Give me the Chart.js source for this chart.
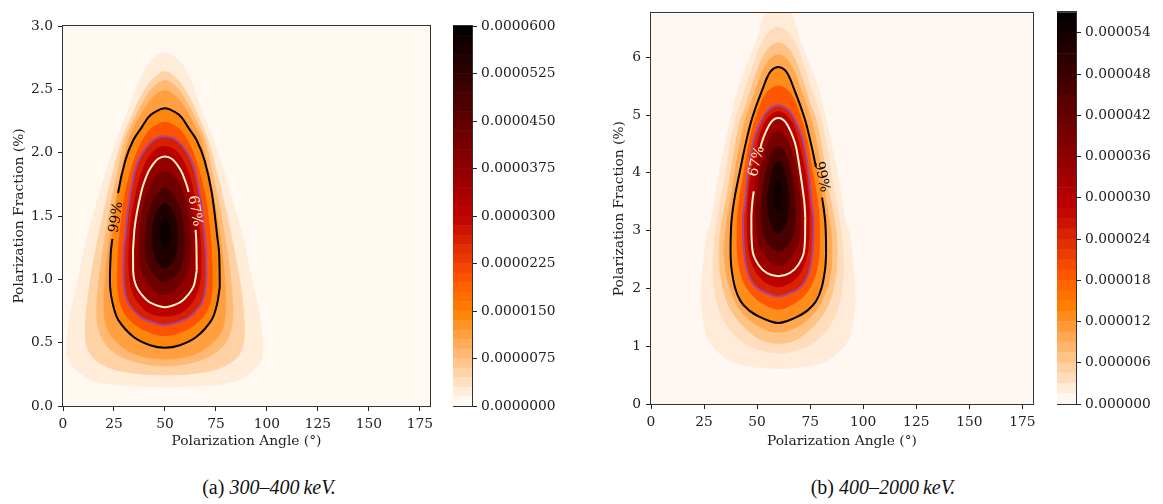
<!DOCTYPE html>
<html lang="en">
<head>
<meta charset="UTF-8" />
<title>Polarization angle / fraction posteriors</title>
<script src="https://cdn.jsdelivr.net/npm/chart.js"></script>
<style>
  body {
    margin: 0;
    width: 1163px;
    height: 504px;
    position: relative;
    overflow: hidden;
    background: #fff;
  }
  canvas { position: absolute; top: 0; }
  #mainA { left: 0; }
  #barA { left: 453px; }
  #mainB { left: 590px; }
  #barB { left: 1057px; }
  .cap {
    position: absolute;
    top: 476px;
    font-family: 'Liberation Serif', serif;
    font-size: 20px;
    color: #111;
    white-space: nowrap;
    transform: translateX(-50%);
  }
</style>
</head>
<body>

<canvas id="mainA" width="445" height="450"></canvas>
<canvas id="barA" width="120" height="420"></canvas>
<canvas id="mainB" width="455" height="450"></canvas>
<canvas id="barB" width="106" height="420"></canvas>
<div class="cap" style="left:269px">(a) <i>300–400&#8201;keV.</i></div>
<div class="cap" style="left:883px">(b) <i>400–2000&#8201;keV.</i></div>

<script>
  // axis ticks
  const angleTicks = [0, 25, 50, 75, 100, 125, 150, 175];
  const fracTicksA = [0, 0.5, 1.0, 1.5, 2.0, 2.5, 3.0];
  const fracTicksB = [0, 1, 2, 3, 4, 5, 6];
  const cbTicksA = [0, 0.0000075, 0.000015, 0.0000225, 0.00003, 0.0000375, 0.000045, 0.0000525, 0.00006];
  const cbTicksB = [0, 0.000006, 0.000012, 0.000018, 0.000024, 0.00003, 0.000036, 0.000042, 0.000048, 0.000054];
  const cbMaxA = 0.00006;
  const cbMaxB = 0.000057;
  const cbStep = 0.0000015;
  const fracMaxA = 3.0;
  const fracMaxB = 6.76;
  const peakAngleA = 50;
  const peakAngleB = 60;

  // contour outlines: [fraction, half-width in degrees], top to bottom
  // panel (a) 300-400 keV, outermost first
  const a1 = [[2.79,0],[2.73,6.5],[2.63,10.8],[2.37,17.2],[2.10,23.6],[1.84,29],[1.57,34],[1.31,38.5],[1.0,42.5],[0.75,46],[0.47,48.2],[0.36,47],[0.28,43],[0.21,37],[0.175,28],[0.158,15],[0.152,0]];
  const a2 = [[2.64,0],[2.58,6],[2.45,11.5],[2.3,16],[2.10,21],[1.84,25.5],[1.57,29.5],[1.31,33],[1.0,36.5],[0.75,38.5],[0.55,39],[0.42,37],[0.33,31],[0.27,20],[0.245,0]];
  const a3 = [[2.57,0],[2.52,5.5],[2.42,10],[2.3,14],[2.10,19.6],[1.84,23.3],[1.57,26.8],[1.31,29.6],[1.0,32.3],[0.75,33.5],[0.58,32],[0.45,27],[0.36,17],[0.315,0]];
  const a4 = [[2.49,0],[2.45,5],[2.36,9.5],[2.25,13.5],[2.10,17.8],[1.84,21.5],[1.57,24.8],[1.31,27.3],[1.0,29.3],[0.75,29.8],[0.6,28],[0.48,22],[0.40,13],[0.37,0]];
  const a99 = [[2.35,0],[2.32,5],[2.28,8.1],[2.2,11.4],[2.1,15.5],[1.94,19.4],[1.68,23],[1.32,25.8],[1.2,26.6],[0.94,26.9],[0.80,25.5],[0.68,22.9],[0.547,15.5],[0.48,7.3],[0.46,0]];
  const a5 = [[2.24,0],[2.21,5],[2.16,8.5],[2.05,12.5],[1.9,16],[1.65,19.8],[1.35,22.2],[1.1,23.2],[0.9,23],[0.75,20.5],[0.64,14.5],[0.575,6.5],[0.555,0]];
  const a95 = [[2.13,0],[2.115,4],[2.09,6.3],[2.04,9.2],[1.97,12.0],[1.84,15],[1.57,17.9],[1.31,19.6],[1.2,20.2],[0.94,20],[0.81,17.9],[0.705,12.2],[0.66,6],[0.64,0]];
  const a6 = [[2.05,0],[2.03,4.0],[1.98,7.3],[1.9,10],[1.75,13.2],[1.5,16.2],[1.25,17.6],[1.0,17.3],[0.86,14.8],[0.76,10],[0.72,5],[0.71,0]];
  const a67 = [[1.97,0],[1.95,3.5],[1.90,6.2],[1.84,8.4],[1.69,11.6],[1.39,15],[1.07,15.6],[0.94,13.9],[0.837,9],[0.80,5],[0.78,0]];
  const a7 = [[1.85,0],[1.8,5],[1.7,8.5],[1.5,11.5],[1.3,12.5],[1.1,11.8],[0.98,8.5],[0.9,4],[0.88,0]];
  const a8 = [[1.72,0],[1.67,4],[1.58,6.8],[1.45,8.8],[1.3,9.5],[1.15,8.8],[1.05,6],[1.0,3],[0.98,0]];
  const a9 = [[1.6,0],[1.56,3],[1.47,5.3],[1.35,6.3],[1.22,5.6],[1.13,3.5],[1.09,0]];
  const a10 = [[1.48,0],[1.44,1.8],[1.37,2.5],[1.3,2.2],[1.26,1.2],[1.245,0]];
  const shapesA = [a1, a2, a3, a4, a99, a5, a95, a6, a67, a7, a8, a9, a10];
  const levelsA = [0.00000225, 0.0000045, 0.0000075, 0.0000105, 0.0000141, 0.0000204, 0.0000258, 0.00003, 0.000036, 0.000042, 0.000048, 0.000054, 0.0000582];

  // panel (b) 400-2000 keV
  const b1 = [[7.0,0],[6.74,6.3],[6.3,10],[6.03,13],[5.46,18.8],[4.89,22.7],[4.32,26],[3.75,29],[3.19,31.5],[2.92,33.7],[2.3,35.5],[1.78,36.3],[1.21,34],[0.98,30.5],[0.8,25],[0.7,19],[0.64,11],[0.615,0]];
  const b2 = [[6.52,0],[6.45,4],[6.2,8.5],[5.9,11.5],[5.46,15.5],[4.89,20.4],[4.32,23.5],[3.75,26],[2.92,29.8],[2.3,30.8],[1.78,29],[1.4,25],[1.1,18],[0.95,10],[0.88,0]];
  const b3 = [[6.25,0],[6.18,4],[5.95,8],[5.6,11.5],[5.2,15],[4.89,18],[4.32,21],[3.75,23.5],[2.92,27.4],[2.3,27.5],[1.78,24.3],[1.45,19],[1.2,12],[1.08,6],[1.05,0]];
  const b4 = [[6.04,0],[5.97,4],[5.75,7.5],[5.4,11],[4.89,15.7],[4.32,19],[3.75,21.5],[2.92,25],[2.3,24.8],[1.78,20.4],[1.5,15],[1.32,8],[1.24,0]];
  const b99 = [[5.83,0],[5.77,3.3],[5.64,5.4],[5.46,7.3],[5.18,10.2],[4.89,12.8],[4.6,14.8],[4.32,16.5],[4.10,17.7],[3.57,20.6],[3.2,22],[2.92,22.4],[2.6,22.5],[2.35,22.1],[2.01,20.4],[1.78,17.8],[1.62,13.8],[1.51,9],[1.44,4.5],[1.40,0]];
  const b5 = [[5.5,0],[5.44,4],[5.3,7],[5.0,10.2],[4.6,13.3],[4.04,16],[3.47,18.6],[3.0,19.4],[2.5,19],[2.1,16.2],[1.85,11.5],[1.7,5.5],[1.64,0]];
  const b95 = [[5.17,0],[5.12,3.6],[5.0,6.6],[4.61,11.2],[4.04,14.1],[3.47,15.7],[3.21,16.6],[2.64,16.1],[2.24,14.1],[2.01,10.2],[1.92,5.5],[1.86,0]];
  const b6 = [[5.06,0],[5.0,3.6],[4.8,7.2],[4.3,11],[3.8,13.5],[3.3,14.6],[2.7,14.1],[2.35,11.5],[2.15,7.5],[2.06,3.5],[2.03,0]];
  const b67 = [[4.95,0],[4.88,3.3],[4.61,7],[4.42,8.5],[4.04,10.2],[3.68,11.6],[3.47,12.3],[3.21,12.7],[2.64,12.1],[2.41,9.4],[2.27,5.5],[2.21,0]];
  const b7 = [[4.72,0],[4.62,3.5],[4.4,6],[4.0,8.5],[3.5,10.3],[3.1,10.5],[2.75,9],[2.55,6],[2.43,3],[2.4,0]];
  const b8 = [[4.45,0],[4.36,3],[4.15,5],[3.8,7],[3.4,8],[3.0,7.5],[2.78,5],[2.68,2.5],[2.65,0]];
  const b9 = [[4.2,0],[4.1,2.3],[3.85,4],[3.55,5],[3.25,4.5],[3.05,2.8],[2.95,0]];
  const b10 = [[3.86,0],[3.78,1.2],[3.62,1.8],[3.45,1.4],[3.38,0.8],[3.36,0]];
  const shapesB = [b1, b2, b3, b4, b99, b5, b95, b6, b67, b7, b8, b9, b10];
  const levelsB = [0.00000214, 0.0000043, 0.0000071, 0.00001, 0.0000134, 0.0000194, 0.0000245, 0.0000285, 0.0000342, 0.0000399, 0.0000456, 0.0000513, 0.0000553];

  // credible-region lines, with the gap left for their inline label
  const linesA = [
    { shape: a99, color: '#000000', gap: { side: -1, lo: 1.32, hi: 1.68 } },
    { shape: a95, color: '#a8449b', gap: null },
    { shape: a67, color: '#fff5c6', gap: { side: 1, lo: 1.39, hi: 1.69 } }
  ];
  const linesB = [
    { shape: b99, color: '#000000', gap: { side: 1, lo: 3.57, hi: 4.10 } },
    { shape: b95, color: '#a8449b', gap: null },
    { shape: b67, color: '#fff5c6', gap: { side: -1, lo: 3.68, hi: 4.42 } }
  ];
  const labelsA = [
    { text: '99%', angle: 26.2, frac: 1.49, rot: -81, color: '#000000' },
    { text: '67%', angle: 64.6, frac: 1.54, rot: 80, color: '#fff5c6' }
  ];
  const labelsB = [
    { text: '67%', angle: 49.8, frac: 4.2, rot: -76, color: '#fff5c6' },
    { text: '99%', angle: 80.4, frac: 3.93, rot: 78, color: '#000000' }
  ];

  const ink = '#222222';
  const tickFont = { family: 'DejaVu Serif', size: 13.8 };

  // gist_heat reversed
  function heat(v) {
    const t = 1 - v;
    const r = Math.min(1, 1.5 * t);
    const g = Math.min(1, Math.max(0, 2 * t - 1));
    const b = Math.min(1, Math.max(0, 4 * t - 3));
    return `rgb(${Math.round(r * 255)},${Math.round(g * 255)},${Math.round(b * 255)})`;
  }
  function bandColor(level, vmax) {
    const k = Math.floor(level / cbStep + 1e-9);
    return heat(Math.min(1, (k + 0.5) * cbStep / vmax));
  }

  // closed outline: right side down, left side back up, starting at the widest point
  function outline(center, profile) {
    const right = profile.map(([y, w]) => ({ x: center + w, y }));
    const left = profile.slice(1, -1).reverse().map(([y, w]) => ({ x: center - w, y }));
    const pts = right.concat(left);
    let k = 0;
    profile.forEach(([, w], i) => { if (w > profile[k][1]) k = i; });
    const loop = pts.slice(k).concat(pts.slice(0, k));
    loop.push({ ...loop[0] });
    return loop;
  }

  function datasetsFor(center, shapes, levels, lines, vmax) {
    const sets = shapes.map((p, i) => {
      const c = bandColor(levels[i], vmax);
      return {
        data: outline(center, p), showLine: true, fill: 'shape',
        backgroundColor: c, borderColor: c, borderWidth: 0.8,
        pointRadius: 0, tension: 0.35, order: 100 - i
      };
    });
    lines.forEach((l, i) => {
      const inGap = (ctx) => {
        if (!l.gap) return false;
        const a = ctx.p0.parsed, b = ctx.p1.parsed;
        const sameSide = (a.x - center) * l.gap.side > 0 && (b.x - center) * l.gap.side > 0;
        return sameSide && Math.min(a.y, b.y) >= l.gap.lo - 1e-6 && Math.max(a.y, b.y) <= l.gap.hi + 1e-6;
      };
      sets.push({
        data: outline(center, l.shape), showLine: true, fill: false,
        borderColor: l.color, borderWidth: 2, pointRadius: 0, tension: 0.35, order: 3 - i,
        segment: { borderColor: ctx => inGap(ctx) ? 'rgba(0,0,0,0)' : l.color }
      });
    });
    return sets;
  }

  const framePlugin = {
    id: 'frame',
    beforeDatasetsDraw(chart, args, opts) {
      if (!opts.bg) return;
      const a = chart.chartArea;
      chart.ctx.save();
      chart.ctx.fillStyle = opts.bg;
      chart.ctx.fillRect(a.left, a.top, a.right - a.left, a.bottom - a.top);
      chart.ctx.restore();
    },
    afterDraw(chart) {
      const a = chart.chartArea, ctx = chart.ctx;
      ctx.save();
      ctx.strokeStyle = '#333333';
      ctx.lineWidth = 1;
      ctx.strokeRect(Math.round(a.left) - 0.5, Math.round(a.top) - 0.5,
        Math.round(a.right - a.left) + 1, Math.round(a.bottom - a.top) + 1);
      ctx.restore();
    }
  };

  function labelPlugin(items) {
    return {
      id: 'contourLabels',
      afterDatasetsDraw(chart) {
        const { ctx, scales: { x, y } } = chart;
        ctx.save();
        ctx.font = '14px "DejaVu Serif"';
        ctx.textAlign = 'center';
        ctx.textBaseline = 'middle';
        items.forEach(l => {
          ctx.save();
          ctx.translate(x.getPixelForValue(l.angle), y.getPixelForValue(l.frac));
          ctx.rotate(l.rot * Math.PI / 180);
          ctx.fillStyle = l.color;
          ctx.fillText(l.text, 0, 0);
          ctx.restore();
        });
        ctx.restore();
      }
    };
  }

  function mainChart(id, cfg) {
    return new Chart(document.getElementById(id), {
      type: 'scatter',
      data: { datasets: datasetsFor(cfg.center, cfg.shapes, cfg.levels, cfg.lines, cfg.vmax) },
      options: {
        responsive: false, animation: false, devicePixelRatio: 1, events: [],
        layout: { padding: cfg.padding },
        plugins: {
          legend: { display: false }, tooltip: { enabled: false },
          frame: { bg: heat(0.5 * cbStep / cfg.vmax) }
        },
        scales: {
          x: {
            type: 'linear', min: 0, max: 180,
            afterBuildTicks: s => { s.ticks = angleTicks.map(v => ({ value: v })); },
            afterFit: s => { s.height = cfg.xHeight; },
            grid: { drawOnChartArea: false, tickLength: 5, color: ink },
            border: { display: false },
            ticks: { font: tickFont, color: ink, padding: 5, maxRotation: 0, autoSkip: false },
            title: { display: true, text: 'Polarization Angle (°)', font: tickFont, color: ink, padding: { top: 0, bottom: 0 } }
          },
          y: {
            type: 'linear', min: 0, max: cfg.fracMax,
            afterBuildTicks: s => { s.ticks = cfg.fracTicks.map(v => ({ value: v })); },
            afterFit: s => { s.width = cfg.yWidth; },
            grid: { drawOnChartArea: false, tickLength: 5, color: ink },
            border: { display: false },
            ticks: { font: tickFont, color: ink, padding: 5, callback: cfg.fmt },
            title: { display: true, text: 'Polarization Fraction (%)', font: tickFont, color: ink, padding: { top: cfg.titlePad, bottom: 0 } }
          }
        }
      },
      plugins: [framePlugin, labelPlugin(cfg.labels)]
    });
  }

  function colorbar(id, cfg) {
    const n = Math.round(cfg.vmax / cbStep);
    const bands = [];
    for (let i = 0; i < n; i++) {
      bands.push({ data: [cbStep], backgroundColor: heat((i + 0.5) / n), borderWidth: 0,
        barPercentage: 1, categoryPercentage: 1 });
    }
    return new Chart(document.getElementById(id), {
      type: 'bar',
      data: { labels: [''], datasets: bands },
      options: {
        responsive: false, animation: false, devicePixelRatio: 1, events: [],
        layout: { padding: cfg.padding },
        plugins: { legend: { display: false }, tooltip: { enabled: false }, frame: {} },
        scales: {
          x: { display: false, stacked: true },
          y: {
            position: 'right', stacked: true, min: 0, max: cfg.vmax,
            afterBuildTicks: s => { s.ticks = cfg.ticks.map(v => ({ value: v })); },
            afterFit: s => { s.width = cfg.width; },
            grid: { drawOnChartArea: false, tickLength: 5, color: ink },
            border: { display: false },
            ticks: { font: tickFont, color: ink, padding: 4, callback: v => v.toFixed(cfg.digits) }
          }
        }
      },
      plugins: [framePlugin]
    });
  }

  mainChart('mainA', {
    center: peakAngleA, shapes: shapesA, levels: levelsA, lines: linesA, labels: labelsA,
    vmax: cbMaxA, fracMax: fracMaxA, fracTicks: fracTicksA, fmt: v => v.toFixed(1),
    padding: { top: 26, right: 15, left: 0, bottom: 0 }, xHeight: 44, yWidth: 63, titlePad: 11
  });
  colorbar('barA', { vmax: cbMaxA, ticks: cbTicksA, digits: 7, width: 101,
    padding: { top: 26, bottom: 14, left: 0, right: 0 } });

  mainChart('mainB', {
    center: peakAngleB, shapes: shapesB, levels: levelsB, lines: linesB, labels: labelsB,
    vmax: cbMaxB, fracMax: fracMaxB, fracTicks: fracTicksB, fmt: v => String(v),
    padding: { top: 9, right: 12, left: 0, bottom: 0 }, xHeight: 46, yWidth: 61, titlePad: 21
  });
  colorbar('barB', { vmax: cbMaxB, ticks: cbTicksB, digits: 6, width: 87,
    padding: { top: 9, bottom: 16, left: 0, right: 0 } });
</script>
</body>
</html>
